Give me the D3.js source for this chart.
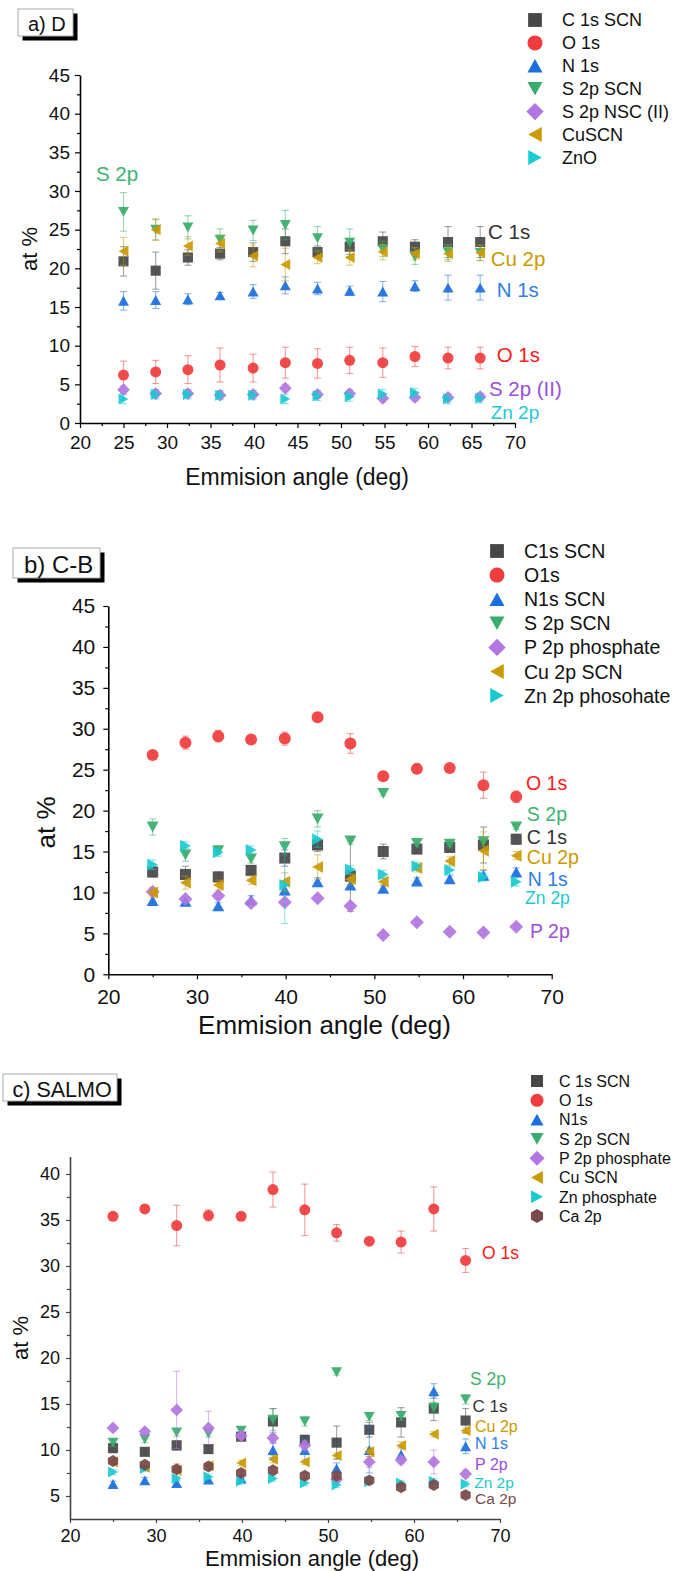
<!DOCTYPE html>
<html><head><meta charset="utf-8">
<script src="https://cdn.jsdelivr.net/npm/d3@7"></script>
<style>
body{margin:0;background:#fff}
svg{display:block;font-family:"Liberation Sans",Arial,sans-serif}
</style></head><body>
<svg id="fig" width="675" height="1571"></svg>
<script>
// Emission angles (deg), shared by all three samples
const angles = [25, 28.7, 32.4, 36.1, 39.9, 43.6, 47.3, 51.0, 54.8, 58.5, 62.3, 66.0];

// ---- a) D ----
const aNames = ["C 1s SCN", "O 1s", "N 1s", "S 2p SCN", "S 2p NSC (II)", "CuSCN", "ZnO"];
const aC1s    = [20.9, 19.7, 21.4, 21.9, 22.1, 23.5, 22.1, 22.8, 23.5, 22.8, 23.4, 23.4];
const aC1sErr = [1.9, 2.4, 1.0, 0.8, 1.2, 1.6, 0.8, 1.0, 1.2, 0.9, 2.0, 2.0];
const aO1s    = [6.2, 6.6, 6.9, 7.5, 7.1, 7.8, 7.7, 8.1, 7.8, 8.6, 8.4, 8.4];
const aO1sErr = [1.8, 1.5, 1.8, 2.2, 1.8, 2.0, 1.9, 1.7, 1.9, 1.3, 1.4, 1.4];
const aN1s    = [15.8, 15.9, 16.0, 16.5, 17.0, 17.8, 17.4, 17.1, 17.0, 17.7, 17.5, 17.5];
const aN1sErr = [1.2, 1.1, 0.7, 0.4, 0.9, 1.1, 0.8, 0.6, 1.3, 0.7, 1.6, 1.6];
const aS2p    = [27.3, 25.0, 25.3, 23.7, 24.9, 25.6, 23.9, 23.3, 22.5, 21.5, 22.1, 22.0];
const aS2pErr = [2.5, 1.3, 1.5, 1.4, 1.3, 1.9, 1.5, 1.8, 1.0, 1.0, 1.0, 1.0];
const aS2pII    = [4.3, 3.8, 3.8, 3.6, 3.7, 4.5, 3.7, 3.8, 3.2, 3.3, 3.3, 3.4];
const aS2pIIErr = [0.5, 0.5, 0.5, 0.5, 0.5, 0.5, 0.5, 0.5, 0.5, 0.5, 0.5, 0.5];
const aCu     = [22.2, 25.0, 22.9, 23.2, 21.6, 20.5, 21.4, 21.4, 22.1, 21.9, 21.9, 22.0];
const aCuErr  = [1.8, 1.4, 1.2, 1.1, 1.4, 2.1, 0.8, 1.0, 1.0, 0.8, 1.0, 1.0];
const aZnO    = [3.1, 3.7, 3.7, 3.6, 3.6, 3.1, 3.5, 3.4, 3.75, 3.9, 3.1, 3.2];
const aZnOErr = [0.6, 0.6, 0.6, 0.6, 0.6, 0.6, 0.6, 0.6, 0.6, 0.6, 0.6, 0.6];

// ---- b) C-B ----
const bNames = ["C1s SCN", "O1s", "N1s SCN", "S 2p SCN", "P 2p phosphate", "Cu 2p SCN", "Zn 2p phosohate"];
const bC1s    = [12.5, 12.2, 11.9, 12.7, 14.2, 15.8, 12.0, 15.0, 15.3, 15.5, 15.8, 16.5];
const bC1sErr = [0.6, 1.0, 0.6, 0.5, 1.0, 0.8, 4.3, 0.9, 0.5, 0.5, 2.2, 0.6];
const bO1s    = [26.8, 28.3, 29.1, 28.7, 28.8, 31.4, 28.2, 24.2, 25.1, 25.2, 23.1, 21.7];
const bO1sErr = [0.3, 0.8, 0.7, 0.3, 0.8, 0.5, 1.2, 0.5, 0.5, 0.3, 1.6, 0.7];
const bN1s    = [9.0, 8.9, 8.35, 9.1, 10.3, 11.3, 10.9, 10.5, 11.4, 11.65, 12.1, 12.5];
const bN1sErr = [0.6, 0.5, 0.4, 0.5, 0.6, 0.5, 0.5, 0.4, 0.4, 0.4, 0.6, 0.5];
const bS2p    = [18.0, 14.6, 15.1, 14.1, 15.6, 19.0, 16.3, 22.1, 16.0, 15.9, 16.2, 18.0];
const bS2pErr = [1.0, 0.8, 0.5, 0.5, 1.0, 1.0, 0.4, 0.3, 0.3, 0.3, 0.6, 0.3];
const bP2p    = [10.1, 9.2, 9.6, 8.7, 8.8, 9.3, 8.35, 4.8, 6.35, 5.2, 5.1, 5.8];
const bP2pErr = [0.3, 0.3, 0.3, 0.3, 0.3, 0.3, 0.3, 0.3, 0.3, 0.3, 0.3, 0.3];
const bCu     = [10.0, 11.2, 10.9, 11.5, 11.3, 13.1, 11.6, 11.3, 13.0, 13.85, 15.1, 14.5];
const bCuErr  = [0.6, 0.8, 0.6, 0.5, 1.1, 1.5, 0.6, 0.5, 0.5, 0.5, 2.3, 0.5];
const bZn     = [13.4, 15.7, 14.9, 15.2, 10.9, 16.5, 12.8, 12.2, 13.2, 12.75, 11.9, 11.3];
const bZnErr  = [0.6, 0.5, 0.5, 0.5, 4.7, 1.0, 0.5, 0.5, 0.5, 0.5, 0.5, 0.5];

// ---- c) SALMO ----
const cNames = ["C 1s SCN", "O 1s", "N1s", "S 2p SCN", "P 2p phosphate", "Cu SCN", "Zn phosphate", "Ca 2p"];
const cC1s    = [10.2, 9.8, 10.5, 10.1, 11.45, 13.1, 11.1, 10.8, 12.2, 13.0, 14.5, 13.2];
const cC1sErr = [0.4, 0.3, 0.5, 0.4, 0.3, 1.4, 0.5, 1.8, 0.8, 1.6, 1.3, 1.3];
const cO1s    = [35.4, 36.2, 34.4, 35.5, 35.4, 38.3, 36.1, 33.6, 32.7, 32.6, 36.2, 30.6];
const cO1sErr = [0.3, 0.3, 2.2, 0.6, 0.3, 1.9, 2.8, 0.9, 0.3, 1.2, 2.4, 1.3];
const cN1s    = [6.3, 6.7, 6.4, 6.8, 6.9, 10.0, 10.0, 8.0, 10.0, 9.5, 16.4, 10.4];
const cN1sErr = [0.3, 0.3, 0.3, 0.3, 0.3, 0.8, 1.2, 0.6, 2.5, 0.8, 0.8, 0.8];
const cS2p    = [10.8, 11.2, 11.9, 11.8, 12.1, 13.3, 13.1, 18.45, 13.6, 13.7, 14.6, 15.5];
const cS2pErr = [0.4, 0.4, 0.4, 0.4, 0.4, 1.2, 0.5, 0.3, 0.4, 0.5, 0.6, 0.5];
const cP2p    = [12.4, 12.0, 14.35, 12.4, 11.55, 11.3, 10.5, 6.8, 8.7, 8.9, 8.7, 7.4];
const cP2pErr = [0.3, 0.3, 4.2, 1.8, 0.3, 0.6, 0.5, 0.3, 0.6, 0.4, 1.3, 0.4];
const cCu     = [8.7, 8.1, 7.8, 8.3, 8.6, 9.0, 8.7, 9.4, 9.8, 10.5, 11.7, 12.1];
const cCuErr  = [0.3, 0.3, 0.7, 0.3, 0.3, 0.4, 0.3, 0.3, 0.5, 0.4, 0.3, 0.3];
const cZn     = [7.6, 8.0, 6.9, 7.1, 6.6, 6.9, 6.4, 6.2, 6.55, 6.4, 6.6, 6.3];
const cZnErr  = [0.3, 0.3, 0.3, 0.3, 0.3, 0.3, 0.3, 0.3, 0.3, 0.3, 0.3, 0.3];
const cCa     = [8.8, 8.4, 7.9, 8.2, 7.5, 7.8, 7.2, 7.2, 6.7, 5.95, 6.2, 5.1];
const cCaErr  = [0.3, 0.3, 0.3, 0.3, 0.3, 0.3, 0.3, 0.3, 0.3, 0.3, 0.3, 0.3];

// Tick values
const xTicks5  = [20, 25, 30, 35, 40, 45, 50, 55, 60, 65, 70];
const xTicks10 = [20, 30, 40, 50, 60, 70];
const yTicks0  = [0, 5, 10, 15, 20, 25, 30, 35, 40, 45];
const yTicks5  = [5, 10, 15, 20, 25, 30, 35, 40];

// Series colours
const COL = {
  C: "#474747", O: "#f03c3c", N: "#1a6fdf", S: "#37ad6b",
  P: "#b276e0", Cu: "#cc9900", Zn: "#19cad0", Ca: "#7a4a4a"
};
const TXT = {
  C: "#333333", O: "#ff1a1a", N: "#2f7ee6", S: "#3cb371",
  P: "#9b50d6", Cu: "#cc9900", Zn: "#1cc9d0", Ca: "#7a4a4a"
};

// Origin-style marker shapes; "size" is the marker box width in px
function tri(rot) {
  return {draw(c, s) {
    const w = s / 2, h = s * 0.45;
    const pts = [[0, -h], [w, h], [-w, h]].map(([px, py]) => {
      const a = rot * Math.PI / 180;
      return [px * Math.cos(a) - py * Math.sin(a), px * Math.sin(a) + py * Math.cos(a)];
    });
    c.moveTo(pts[0][0], pts[0][1]); c.lineTo(pts[1][0], pts[1][1]); c.lineTo(pts[2][0], pts[2][1]); c.closePath();
  }};
}
const SHAPE = {
  square: {draw(c, s) { const h = s * 0.46; c.moveTo(-h, -h); c.lineTo(h, -h); c.lineTo(h, h); c.lineTo(-h, h); c.closePath(); }},
  circle: {draw(c, s) { const r = s / 2; c.moveTo(r, 0); c.arc(0, 0, r, 0, 2 * Math.PI); }},
  up: tri(0), down: tri(180), left: tri(-90), right: tri(90),
  diamond: {draw(c, s) { const r = s * 0.58; c.moveTo(0, -r); c.lineTo(r, 0); c.lineTo(0, r); c.lineTo(-r, 0); c.closePath(); }},
  hexagon: {draw(c, s) { const r = s * 0.54;
    for (let i = 0; i < 6; i++) { const a = Math.PI / 6 + i * Math.PI / 3; const px = r * Math.cos(a), py = r * Math.sin(a); i ? c.lineTo(px, py) : c.moveTo(px, py); }
    c.closePath(); }}
};

const svg = d3.select("#fig");

function drawPanel(p) {
  const g = svg.append("g");
  const x = d3.scaleLinear().domain(p.xDomain).range(p.xRange);
  const y = d3.scaleLinear().domain(p.yDomain).range(p.yRange);
  const axisCol = p.axisColor || "#000";

  // axes: major + minor ticks
  const xMinor = d3.range(p.xDomain[0], p.xDomain[1], p.xMinorStep).map(v => v + p.xMinorStep / 2);
  const yMinor = d3.range(p.yMinorStart, p.yDomain[1], p.yMinorStep * 2);
  g.append("g").attr("transform", `translate(0,${p.yRange[0]})`)
    .call(d3.axisBottom(x).tickValues(xMinor).tickSize(p.minorLen).tickSizeOuter(0).tickFormat(""))
    .call(s => s.select(".domain").remove());
  g.append("g").attr("transform", `translate(${p.xRange[0]},0)`)
    .call(d3.axisLeft(y).tickValues(yMinor).tickSize(p.minorLen).tickSizeOuter(0).tickFormat(""))
    .call(s => s.select(".domain").remove());
  const gx = g.append("g").attr("transform", `translate(0,${p.yRange[0]})`)
    .call(d3.axisBottom(x).tickValues(p.xTicks).tickSize(p.majorLen).tickSizeOuter(0).tickPadding(p.xPad).tickFormat(d3.format("d")));
  const gy = g.append("g").attr("transform", `translate(${p.xRange[0]},0)`)
    .call(d3.axisLeft(y).tickValues(p.yTicks).tickSize(p.majorLen).tickSizeOuter(0).tickPadding(p.yPad).tickFormat(d3.format("d")));
  [gx, gy].forEach(a => {
    a.selectAll("text").attr("font-size", p.tickFont).attr("fill", "#111").attr("font-family", "Liberation Sans, Arial, sans-serif");
  });
  g.selectAll(".tick line").attr("stroke", axisCol).attr("stroke-width", 1.2);
  g.selectAll(".domain").attr("stroke", axisCol).attr("stroke-width", 1.6);

  // axis titles
  g.append("text").attr("x", p.xTitle[0]).attr("y", p.xTitle[1]).attr("text-anchor", "middle")
    .attr("font-size", p.xTitleFont).attr("fill", "#111").text("Emmision angle (deg)");
  g.append("text").attr("transform", `translate(${p.yTitle[0]},${p.yTitle[1]}) rotate(-90)`)
    .attr("text-anchor", "middle").attr("font-size", p.yTitleFont).attr("fill", "#111").text("at %");

  // error bars then markers, series in legend order
  p.series.forEach(s => {
    const pts = angles.map((a, i) => ({a, v: s.values[i], e: s.errors[i]}));
    const eb = g.append("g").attr("stroke", s.color).attr("stroke-opacity", 0.5).attr("stroke-width", 1.1);
    eb.selectAll("line.v").data(pts).join("line").attr("class", "v")
      .attr("x1", d => x(d.a)).attr("x2", d => x(d.a))
      .attr("y1", d => y(d.v - d.e)).attr("y2", d => y(d.v + d.e));
    [1, -1].forEach(sg => {
      eb.selectAll("line.c" + (sg > 0 ? "t" : "b")).data(pts).join("line").attr("class", "c" + (sg > 0 ? "t" : "b"))
        .attr("x1", d => x(d.a) - 3.5).attr("x2", d => x(d.a) + 3.5)
        .attr("y1", d => y(d.v + sg * d.e)).attr("y2", d => y(d.v + sg * d.e));
    });
    const sym = d3.symbol().type(SHAPE[s.shape]).size(p.markSize);
    g.append("g").selectAll("path").data(pts).join("path")
      .attr("transform", d => `translate(${x(d.a)},${y(d.v)})`)
      .attr("d", sym).attr("fill", s.color).attr("fill-opacity", 0.92);
  });

  // legend
  const lg = g.append("g");
  p.series.forEach((s, i) => {
    const yy = p.legend.y0 + i * p.legend.dy;
    lg.append("path").attr("transform", `translate(${p.legend.mx},${yy})`)
      .attr("d", d3.symbol().type(SHAPE[s.shape]).size(p.legend.ms)).attr("fill", s.color);
    lg.append("text").attr("x", p.legend.tx).attr("y", yy).attr("dy", "0.36em")
      .attr("font-size", p.legend.font).attr("fill", "#111").text(s.name);
  });

  // element labels next to the series
  p.labels.forEach(l => {
    g.append("text").attr("x", x(l.x)).attr("y", y(l.y)).attr("dy", "0.36em")
      .attr("font-size", l.font).attr("fill", TXT[l.key]).text(l.text);
  });

  // panel tag with drop shadow
  const t = p.tag;
  g.append("rect").attr("x", t.x + 4.5).attr("y", t.y + 4.5).attr("width", t.w).attr("height", t.h).attr("fill", "#000");
  g.append("rect").attr("x", t.x).attr("y", t.y).attr("width", t.w).attr("height", t.h).attr("fill", "#fff")
    .attr("stroke", "#aaa").attr("stroke-width", 1);
  g.append("text").attr("x", t.tx).attr("y", t.ty).attr("font-size", t.font).attr("fill", "#111").text(t.text);
}

drawPanel({
  xDomain: [20, 70], xRange: [80, 515], yDomain: [0, 45], yRange: [423, 75],
  xTicks: xTicks5, yTicks: yTicks0, xMinorStep: 5, yMinorStart: 2.5, yMinorStep: 2.5,
  majorLen: 5, minorLen: 3, xPad: 8, yPad: 5, tickFont: 19,
  xTitle: [297, 485], xTitleFont: 23, yTitle: [37, 249], yTitleFont: 22,
  markSize: 11,
  series: [
    {name: aNames[0], values: aC1s, errors: aC1sErr, color: COL.C, shape: "square"},
    {name: aNames[1], values: aO1s, errors: aO1sErr, color: COL.O, shape: "circle"},
    {name: aNames[2], values: aN1s, errors: aN1sErr, color: COL.N, shape: "up"},
    {name: aNames[3], values: aS2p, errors: aS2pErr, color: COL.S, shape: "down"},
    {name: aNames[4], values: aS2pII, errors: aS2pIIErr, color: COL.P, shape: "diamond"},
    {name: aNames[5], values: aCu, errors: aCuErr, color: COL.Cu, shape: "left"},
    {name: aNames[6], values: aZnO, errors: aZnOErr, color: COL.Zn, shape: "right"}
  ],
  legend: {mx: 535, tx: 562, y0: 20, dy: 22.9, ms: 15, font: 18},
  labels: [
    {text: "S 2p", key: "S", x: 21.84, y: 32.3, font: 20.5},
    {text: "C 1s", key: "C", x: 66.9, y: 24.7, font: 20.5},
    {text: "Cu 2p", key: "Cu", x: 67.2, y: 21.3, font: 20.5},
    {text: "N 1s", key: "N", x: 67.9, y: 17.2, font: 20.5},
    {text: "O 1s", key: "O", x: 67.9, y: 8.9, font: 20.5},
    {text: "S 2p (II)", key: "P", x: 67.0, y: 4.4, font: 20.5},
    {text: "Zn 2p", key: "Zn", x: 67.2, y: 1.46, font: 19}
  ],
  tag: {x: 18, y: 9, w: 55, h: 27, tx: 28, ty: 30.5, font: 20, text: "a) D"}
});

drawPanel({
  xDomain: [20, 70], xRange: [108.3, 551.7], yDomain: [0, 45], yRange: [974.3, 606],
  xTicks: xTicks10, yTicks: yTicks0, xMinorStep: 10, yMinorStart: 2.5, yMinorStep: 2.5,
  majorLen: 5, minorLen: 3, xPad: 10, yPad: 8, tickFont: 21,
  xTitle: [324.5, 1034], xTitleFont: 26, yTitle: [55, 822.5], yTitleFont: 26,
  markSize: 12,
  series: [
    {name: bNames[0], values: bC1s, errors: bC1sErr, color: COL.C, shape: "square"},
    {name: bNames[1], values: bO1s, errors: bO1sErr, color: COL.O, shape: "circle"},
    {name: bNames[2], values: bN1s, errors: bN1sErr, color: COL.N, shape: "up"},
    {name: bNames[3], values: bS2p, errors: bS2pErr, color: COL.S, shape: "down"},
    {name: bNames[4], values: bP2p, errors: bP2pErr, color: COL.P, shape: "diamond"},
    {name: bNames[5], values: bCu, errors: bCuErr, color: COL.Cu, shape: "left"},
    {name: bNames[6], values: bZn, errors: bZnErr, color: COL.Zn, shape: "right"}
  ],
  legend: {mx: 497, tx: 524, y0: 551, dy: 24.1, ms: 15, font: 19.5},
  labels: [
    {text: "O 1s", key: "O", x: 67.1, y: 23.4, font: 19.5},
    {text: "S 2p", key: "S", x: 67.2, y: 19.6, font: 19.5},
    {text: "C 1s", key: "C", x: 67.2, y: 16.8, font: 19.5},
    {text: "Cu 2p", key: "Cu", x: 67.2, y: 14.3, font: 19.5},
    {text: "N 1s", key: "N", x: 67.3, y: 11.6, font: 19.5},
    {text: "Zn 2p", key: "Zn", x: 67.0, y: 9.4, font: 17.5},
    {text: "P 2p", key: "P", x: 67.55, y: 5.3, font: 19.5}
  ],
  tag: {x: 13, y: 548, w: 87, h: 30, tx: 24, ty: 572.5, font: 24, text: "b) C-B"}
});

drawPanel({
  xDomain: [20, 70], xRange: [70, 500], yDomain: [2.5, 41.9], yRange: [1519, 1156.5],
  xTicks: xTicks10, yTicks: yTicks5, xMinorStep: 10, yMinorStart: 7.5, yMinorStep: 2.5,
  majorLen: 4, minorLen: 3, xPad: 6, yPad: 6, tickFont: 18,
  xTitle: [312, 1566], xTitleFont: 22, yTitle: [28, 1338], yTitleFont: 22,
  markSize: 11, axisColor: "#444",
  series: [
    {name: cNames[0], values: cC1s, errors: cC1sErr, color: COL.C, shape: "square"},
    {name: cNames[1], values: cO1s, errors: cO1sErr, color: COL.O, shape: "circle"},
    {name: cNames[2], values: cN1s, errors: cN1sErr, color: COL.N, shape: "up"},
    {name: cNames[3], values: cS2p, errors: cS2pErr, color: COL.S, shape: "down"},
    {name: cNames[4], values: cP2p, errors: cP2pErr, color: COL.P, shape: "diamond"},
    {name: cNames[5], values: cCu, errors: cCuErr, color: COL.Cu, shape: "left"},
    {name: cNames[6], values: cZn, errors: cZnErr, color: COL.Zn, shape: "right"},
    {name: cNames[7], values: cCa, errors: cCaErr, color: COL.Ca, shape: "hexagon"}
  ],
  legend: {mx: 537, tx: 559, y0: 1081, dy: 19.3, ms: 13, font: 16},
  labels: [
    {text: "O 1s", key: "O", x: 67.9, y: 31.4, font: 17.5},
    {text: "S 2p", key: "S", x: 66.5, y: 17.8, font: 17.5},
    {text: "C 1s", key: "C", x: 66.8, y: 14.75, font: 17},
    {text: "Cu 2p", key: "Cu", x: 67.1, y: 12.6, font: 16},
    {text: "N 1s", key: "N", x: 67.1, y: 10.75, font: 16},
    {text: "P 2p", key: "P", x: 67.1, y: 8.4, font: 16},
    {text: "Zn 2p", key: "Zn", x: 67.0, y: 6.5, font: 15.5},
    {text: "Ca 2p", key: "Ca", x: 67.1, y: 4.75, font: 15.5}
  ],
  tag: {x: 3, y: 1074, w: 114, h: 27, tx: 12.5, ty: 1096.5, font: 21.5, text: "c) SALMO"}
});
</script>
</body></html>
